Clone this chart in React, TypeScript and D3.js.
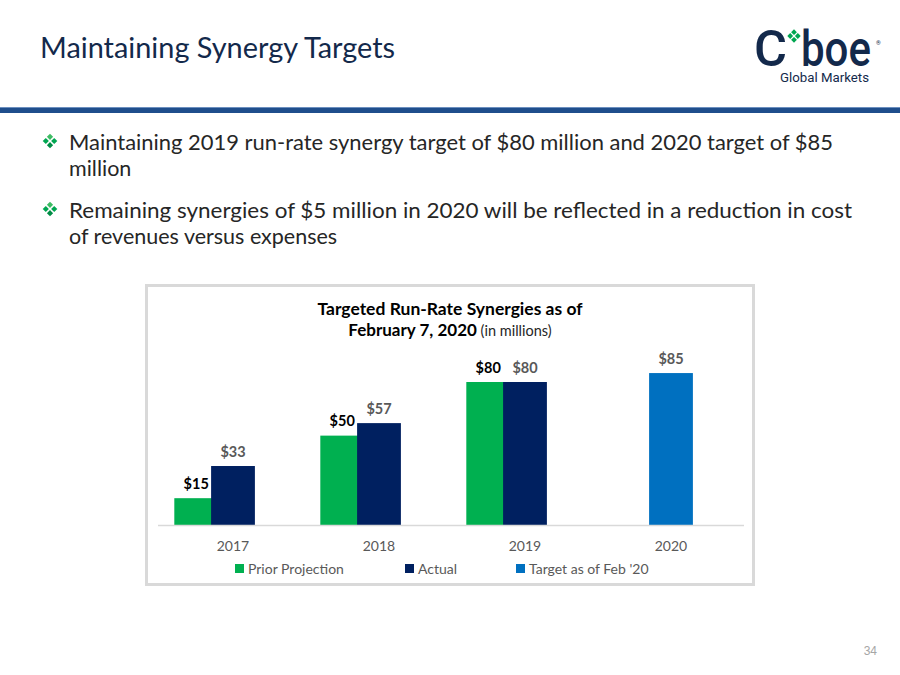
import React from "react";
import * as d3 from "d3";

// Run-rate synergy data (USD millions)
const years = ["2017", "2018", "2019", "2020"];
const priorProjection: (number | null)[] = [15, 50, 80, null];
const actual: (number | null)[] = [33, 57, 80, null];
const targetFeb20: (number | null)[] = [null, null, null, 85];

const seriesNames = ["Prior Projection", "Actual", "Target as of Feb '20"];
const seriesColors = ["#00B050", "#002060", "#0070C0"];

const bulletLines = [
  ["Maintaining 2019 run-rate synergy target of $80 million and 2020 target of $85", "million"],
  ["Remaining synergies of $5 million in 2020 will be reflected in a reduction in cost", "of revenues versus expenses"],
];

const FONT = "'Source Sans Pro', Lato, 'Open Sans', sans-serif";
const LOGO_FONT = "Roboto, 'Liberation Sans', Arial, sans-serif";
const NAVY = "#13294B";

function Diamonds({ cx, cy, r, s, colors }: { cx: number; cy: number; r: number; s: number; colors: string[] }) {
  const offs = [
    [0, -r],
    [-r, 0],
    [r, 0],
    [0, r],
  ];
  return (
    <g>
      {offs.map(([dx, dy], i) => {
        const x = cx + dx;
        const y = cy + dy;
        return (
          <path
            key={i}
            d={`M${x},${y - s}L${x + s},${y}L${x},${y + s}L${x - s},${y}Z`}
            fill={colors[i % colors.length]}
          />
        );
      })}
    </g>
  );
}

export default function App() {
  const baseY = 525;
  const x = d3.scaleBand<string>().domain(years).range([160, 744]).paddingInner(0).paddingOuter(0);
  const y = d3.scaleLinear().domain([0, 100]).range([baseY, baseY - 178.75]);
  const barW = x.bandwidth() * 0.3;
  const step = barW * 0.84; // overlapping series slots
  const center = (yr: string) => (x(yr) as number) + x.bandwidth() / 2;

  type Bar = { yr: string; v: number; slot: number; color: string; labelColor: string };
  const bars: Bar[] = [];
  years.forEach((yr, i) => {
    const p = priorProjection[i];
    if (p != null) bars.push({ yr, v: p, slot: -1, color: seriesColors[0], labelColor: "#000000" });
  });
  years.forEach((yr, i) => {
    const a = actual[i];
    if (a != null) bars.push({ yr, v: a, slot: 0, color: seriesColors[1], labelColor: "#595959" });
  });
  years.forEach((yr, i) => {
    const t = targetFeb20[i];
    if (t != null) bars.push({ yr, v: t, slot: 0, color: seriesColors[2], labelColor: "#595959" });
  });

  const legendItems = [
    { name: seriesNames[0], x: 235 },
    { name: seriesNames[1], x: 405 },
    { name: seriesNames[2], x: 516 },
  ];

  return (
    <svg
      width={900}
      height={675}
      style={{ position: "absolute", left: 0, top: 0, background: "#ffffff" }}
      fontFamily={FONT}
    >
      <rect x={0} y={0} width={900} height={675} fill="#ffffff" />

      {/* Slide header */}
      <text x={40} y={58} fontSize={28} fill={NAVY} textLength={355} lengthAdjust="spacingAndGlyphs">
        Maintaining Synergy Targets
      </text>

      {/* Logo */}
      <g fontFamily={LOGO_FONT} fill={NAVY}>
        <text x={754} y={66} fontSize={50} fontWeight={500} textLength={33} lengthAdjust="spacingAndGlyphs">
          C
        </text>
        <Diamonds cx={794} cy={36} r={3.8} s={2.9} colors={["#00A651", "#00A651", "#00A651", "#00A651"]} />
        <text x={801} y={66} fontSize={50} fontWeight={500} textLength={70} lengthAdjust="spacingAndGlyphs">
          boe
        </text>
        <text x={876} y={45} fontSize={6}>
          ®
        </text>
        <text x={780} y={82} fontSize={12.5} textLength={89} lengthAdjust="spacingAndGlyphs">
          Global Markets
        </text>
      </g>

      {/* Header rule */}
      <rect x={0} y={107} width={900} height={6} fill="#1F4E8C" />
      <rect x={0} y={107} width={900} height={1} fill="#6C8FBF" />

      {/* Bullets */}
      {bulletLines.map((lines, i) => {
        const top = 150 + i * 68;
        return (
          <g key={i}>
            <Diamonds cx={50} cy={top - 9} r={4.2} s={3.1} colors={["#3DBB63", "#00A651", "#00A651", "#008C45"]} />
            <text x={69} y={top} fontSize={21.5} fill="#262626" textLength={i === 0 ? 764 : 783} lengthAdjust="spacingAndGlyphs">
              {lines[0]}
            </text>
            <text x={69} y={top + 26} fontSize={21.5} fill="#262626">
              {lines[1]}
            </text>
          </g>
        );
      })}

      {/* Chart frame */}
      <rect x={146.5} y={285.5} width={607} height={299} fill="#ffffff" stroke="#D9D9D9" strokeWidth={3} />

      {/* Chart title */}
      <text x={450} y={315} textAnchor="middle" fontSize={17} fontWeight={700} fill="#000000" textLength={265} lengthAdjust="spacingAndGlyphs">
        Targeted Run-Rate Synergies as of
      </text>
      <text x={450} y={336} textAnchor="middle" fontSize={17} fill="#000000">
        <tspan fontWeight={700}>February 7, 2020</tspan>
        <tspan fontSize={14.5} fill="#262626"> (in millions)</tspan>
      </text>

      {/* Bars */}
      {bars.map((b, i) => {
        const cx = center(b.yr) + b.slot * step;
        return (
          <rect key={i} x={cx - barW / 2} y={y(b.v)} width={barW} height={baseY - y(b.v)} fill={b.color} />
        );
      })}

      {/* Baseline */}
      <line x1={158} x2={744} y1={baseY + 0.5} y2={baseY + 0.5} stroke="#D9D9D9" strokeWidth={1.5} />

      {/* Value labels */}
      {bars.map((b, i) => {
        const cx = center(b.yr) + b.slot * step;
        return (
          <text
            key={i}
            x={cx}
            y={y(b.v) - 9.5}
            textAnchor="middle"
            fontSize={14.5}
            fontWeight={700}
            fill={b.labelColor}
          >
            {`$${b.v}`}
          </text>
        );
      })}

      {/* Category axis labels */}
      {years.map((yr) => (
        <text key={yr} x={center(yr)} y={551} textAnchor="middle" fontSize={14} fill="#595959">
          {yr}
        </text>
      ))}

      {/* Legend */}
      {legendItems.map((it, i) => (
        <g key={it.name}>
          <rect x={it.x} y={564} width={9} height={9} fill={seriesColors[i]} />
          <text x={it.x + 13} y={574} fontSize={14} fill="#595959">
            {it.name}
          </text>
        </g>
      ))}

      {/* Page number */}
      <text x={877} y={655} textAnchor="end" fontSize={12} fill="#A6A6A6" fontFamily="'Liberation Sans', Arial, sans-serif">
        34
      </text>
    </svg>
  );
}
